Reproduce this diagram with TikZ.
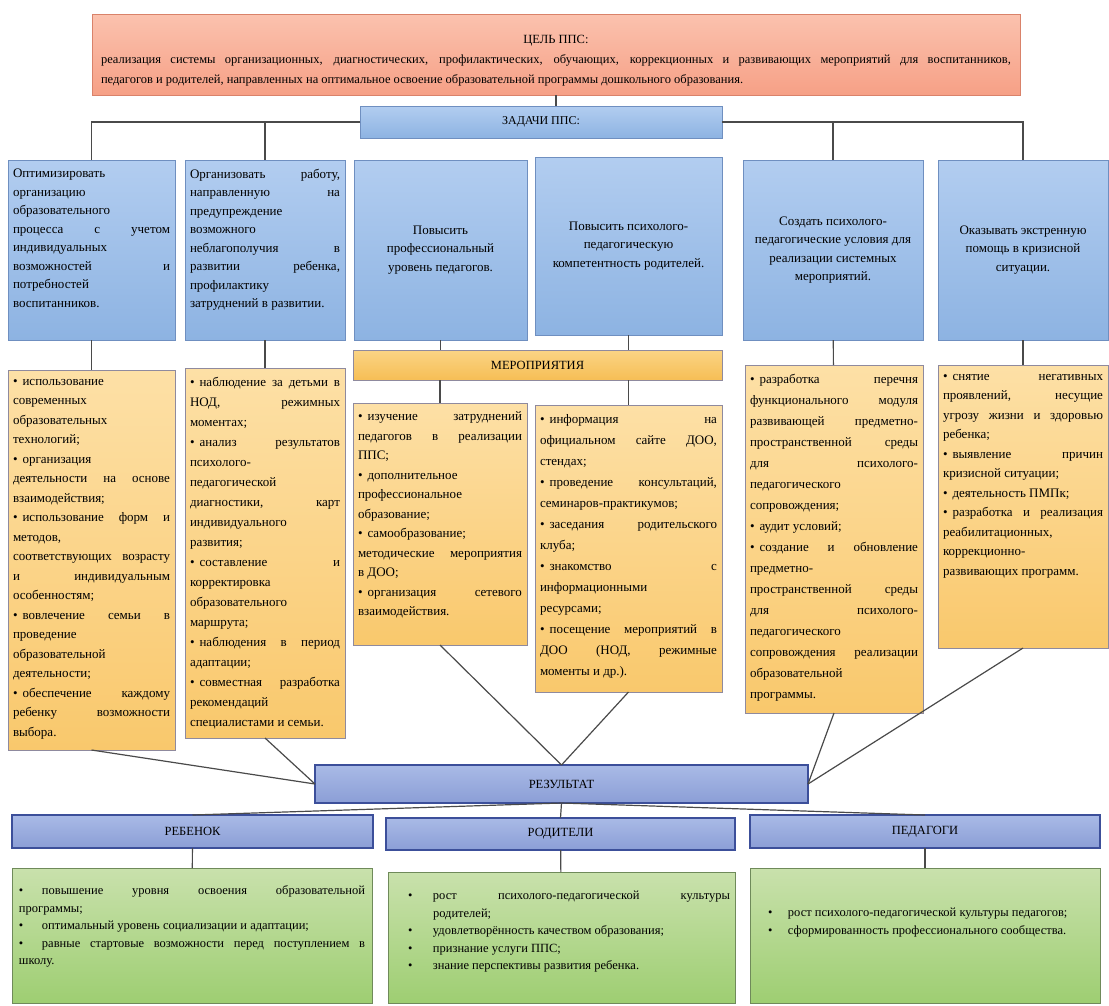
\documentclass[tikz,border=0pt]{standalone}
\usepackage{fontspec}
\setmainfont{Liberation Serif}

\definecolor{goaltop}{HTML}{FBC2AE}
\definecolor{goalbot}{HTML}{F6A086}
\definecolor{goalline}{HTML}{D9826A}
\definecolor{tasktop}{HTML}{B2CDF0}
\definecolor{taskbot}{HTML}{8DB3E2}
\definecolor{taskline}{HTML}{6F8FC0}
\definecolor{actop}{HTML}{FDE0A6}
\definecolor{acbot}{HTML}{F9C86C}
\definecolor{acline}{HTML}{8F8A9E}
\definecolor{mertop}{HTML}{FAD485}
\definecolor{merbot}{HTML}{F6BE55}
\definecolor{restop}{HTML}{A9BAE6}
\definecolor{resbot}{HTML}{8B9ED6}
\definecolor{resline}{HTML}{3C4F9A}
\definecolor{outtop}{HTML}{C9E1AC}
\definecolor{outbot}{HTML}{9ECE72}
\definecolor{outline}{HTML}{6F8A5A}
\definecolor{linkc}{HTML}{4A4A4A}

\tolerance=10000
\hbadness=10000
\hyphenpenalty=10000
\newcommand\brk{\linebreak}
\newcommand\bul{•\kern5pt}
\newcommand\topbox[3]{\parbox[c][#2][t]{#1}{\vspace*{5pt}#3}}

\begin{document}
\begin{tikzpicture}[x=1pt,y=-1pt,
  box/.style={draw, anchor=north west, inner xsep=5pt, inner ysep=4pt, outer sep=0pt, line width=0.8pt},
  goal/.style={box, draw=goalline, top color=goaltop, bottom color=goalbot, font=\fontsize{12.5}{20}\selectfont},
  task/.style={box, draw=taskline, top color=tasktop, bottom color=taskbot, font=\fontsize{13}{18.5}\selectfont},
  taskc/.style={task, align=center},
  merbox/.style={box, draw=acline, top color=mertop, bottom color=merbot, font=\fontsize{12.5}{15}\selectfont},
  act/.style={box, draw=acline, top color=actop, bottom color=acbot, font=\fontsize{13}{19.5}\selectfont},
  resbox/.style={box, draw=resline, line width=1.2pt, top color=restop, bottom color=resbot, font=\fontsize{12.5}{15}\selectfont},
  outbox/.style={box, draw=outline, top color=outtop, bottom color=outbot, font=\fontsize{12.5}{17.5}\selectfont},
  link/.style={draw=linkc, line width=1.2pt}
]
\useasboundingbox[fill=white] (0,0) rectangle (1109,1005);

% goal and tasks
\node[goal, minimum width=928pt, minimum height=81pt] at (92,14) (goal) {\parbox[c][73pt][t]{910pt}{\vspace*{17pt}{\centering ЦЕЛЬ ППС:\par}
реализация системы организационных, диагностических, профилактических, обучающих, коррекционных и развивающих мероприятий для воспитанников,\brk
педагогов и родителей, направленных на оптимальное освоение образовательной программы дошкольного образования.}};
\node[task, minimum width=362pt, minimum height=32pt, font=\fontsize{12}{14}\selectfont] at (360,106) (zad) {ЗАДАЧИ ППС:};

\node[task, minimum width=167pt, minimum height=180pt] at (8,160) (t1) {\topbox{157pt}{172pt}{Оптимизировать\brk организацию\brk образовательного\brk процесса с учетом\brk индивидуальных\brk возможностей и\brk потребностей\brk воспитанников.}};
\node[task, minimum width=160pt, minimum height=180pt] at (185,160) (t2) {\topbox{150pt}{172pt}{Организовать работу,\brk направленную на\brk предупреждение\brk возможного\brk неблагополучия в\brk развитии ребенка,\brk профилактику\brk затруднений в развитии.}};
\node[taskc, minimum width=173pt, minimum height=180pt] at (354,160) (t3) {Повысить\\ профессиональный\\ уровень педагогов.};
\node[taskc, minimum width=187pt, minimum height=178pt] at (535,157) (t4) {Повысить психолого-\\ педагогическую\\ компетентность родителей.};
\node[taskc, minimum width=180pt, minimum height=180pt] at (743,160) (t5) {Создать психолого-\\ педагогические условия для\\ реализации системных\\ мероприятий.};
\node[taskc, minimum width=170pt, minimum height=180pt] at (938,160) (t6) {Оказывать экстренную\\ помощь в кризисной\\ ситуации.};

% activities
\node[merbox, minimum width=369pt, minimum height=30pt] at (353,350) (mer) {МЕРОПРИЯТИЯ};

\node[act, minimum width=167pt, minimum height=380pt] at (8,370) (a1) {\topbox{157pt}{372pt}{\bul использование\brk современных\brk образовательных\brk технологий;\par
\bul организация\brk деятельности на основе\brk взаимодействия;\par
\bul использование форм и\brk методов,\brk соответствующих возрасту\brk и индивидуальным\brk особенностям;\par
\bul вовлечение семьи в\brk проведение\brk образовательной\brk деятельности;\par
\bul обеспечение каждому\brk ребенку возможности\brk выбора.}};
\node[act, minimum width=160pt, minimum height=370pt, font=\fontsize{13}{20}\selectfont] at (185,368) (a2) {\topbox{150pt}{362pt}{\bul наблюдение за детьми в\brk НОД, режимных\brk моментах;\par
\bul анализ результатов\brk психолого-\brk педагогической\brk диагностики, карт\brk индивидуального\brk развития;\par
\bul составление и\brk корректировка\brk образовательного\brk маршрута;\par
\bul наблюдения в период\brk адаптации;\par
\bul совместная разработка\brk рекомендаций\brk специалистами и семьи.}};
\node[act, minimum width=174pt, minimum height=242pt] at (353,403) (a3) {\topbox{164pt}{234pt}{\bul изучение затруднений\brk педагогов в реализации\brk ППС;\par
\bul дополнительное\brk профессиональное\brk образование;\par
\bul самообразование;\\ методические мероприятия\brk в ДОО;\par
\bul организация сетевого\brk взаимодействия.}};
\node[act, minimum width=187pt, minimum height=287pt, font=\fontsize{13}{21}\selectfont] at (535,405) (a4) {\topbox{177pt}{279pt}{\bul информация на\brk официальном сайте ДОО,\brk стендах;\par
\bul проведение консультаций,\brk семинаров-практикумов;\par
\bul заседания родительского\brk клуба;\par
\bul знакомство с\brk информационными\brk ресурсами;\par
\bul посещение мероприятий в\brk ДОО (НОД, режимные\brk моменты и др.).}};
\node[act, minimum width=178pt, minimum height=348pt, font=\fontsize{13}{21}\selectfont] at (745,365) (a5) {\topbox{168pt}{340pt}{\bul разработка перечня\brk функционального модуля\brk развивающей предметно-\brk пространственной среды\brk для психолого-\brk педагогического\brk сопровождения;\par
\bul аудит условий;\par
\bul создание и обновление\brk предметно-\brk пространственной среды\brk для психолого-\brk педагогического\brk сопровождения реализации\brk образовательной\brk программы.}};
\node[act, minimum width=170pt, minimum height=283pt] at (938,365) (a6) {\topbox{160pt}{275pt}{\bul снятие негативных\brk проявлений, несущие\brk угрозу жизни и здоровью\brk ребенка;\par
\bul выявление причин\brk кризисной ситуации;\par
\bul деятельность ПМПк;\par
\bul разработка и реализация\brk реабилитационных,\brk коррекционно-\brk развивающих программ.}};

% results
\node[resbox, minimum width=493pt, minimum height=38pt] at (315,765) (res) {РЕЗУЛЬТАТ};
\node[resbox, minimum width=361pt, minimum height=33pt] at (12,815) (c1) {РЕБЕНОК};
\node[resbox, minimum width=349pt, minimum height=32pt] at (386,818) (c2) {РОДИТЕЛИ};
\node[resbox, minimum width=350pt, minimum height=33pt] at (750,815) (c3) {ПЕДАГОГИ};

\node[outbox, minimum width=360pt, minimum height=135pt] at (12,868) (g1) {\parbox[c][127pt][t]{346pt}{\vspace*{14pt}\makebox[23pt][l]{•}повышение уровня освоения образовательной\brk программы;\par
\makebox[23pt][l]{•}оптимальный уровень социализации и адаптации;\par
\makebox[23pt][l]{•}равные стартовые возможности перед поступлением в\brk школу.}};
\node[outbox, minimum width=347pt, minimum height=131pt] at (388,872) (g2) {\parbox[c][123pt][t]{337pt}{\vspace*{15pt}\leftskip=40pt \parindent=-25pt
\makebox[25pt][l]{•}рост психолого-педагогической культуры\brk родителей;\par
\makebox[25pt][l]{•}удовлетворённость качеством образования;\par
\makebox[25pt][l]{•}признание услуги ППС;\par
\makebox[25pt][l]{•}знание перспективы развития ребенка.}};
\node[outbox, minimum width=350pt, minimum height=135pt] at (750,868) (g3) {\parbox[c][127pt][t]{340pt}{\vspace*{36pt}\leftskip=13pt \parindent=-0pt
\makebox[20pt][l]{•}рост психолого-педагогической культуры педагогов;\par
\makebox[20pt][l]{•}сформированность профессионального сообщества.}};

% connectors
\draw[link] (goal.south) -- (goal.south |- zad.north);
\draw[link] (zad.west) -| (t1.north);
\draw[link] (zad.west) -| (t2.north);
\draw[link] (zad.east) -| (t5.north);
\draw[link] (zad.east) -| (t6.north);
\draw[link] (t3.south) -- (t3.south |- mer.north);
\draw[link] (t4.south) -- (t4.south |- mer.north);
\draw[link] (a3.north |- mer.south) -- (a3.north);
\draw[link] (a4.north |- mer.south) -- (a4.north);
\draw[link] (t1) -- (a1);
\draw[link] (t2) -- (a2);
\draw[link] (t5) -- (a5);
\draw[link] (t6) -- (a6);
\draw[link] (a1.south) -- (res.west);
\draw[link] (a2.south) -- (res.west);
\draw[link] (a3.south) -- (res.north);
\draw[link] (a4.south) -- (res.north);
\draw[link] (a5.south) -- (res.east);
\draw[link] (a6.south) -- (res.east);
\draw[link] (res.south) -- (c1.north);
\draw[link] (res.south) -- (c2.north);
\draw[link] (res.south) -- (c3.north);
\draw[link] (c1) -- (g1);
\draw[link] (c2) -- (g2);
\draw[link] (c3) -- (g3);
\end{tikzpicture}
\end{document}
